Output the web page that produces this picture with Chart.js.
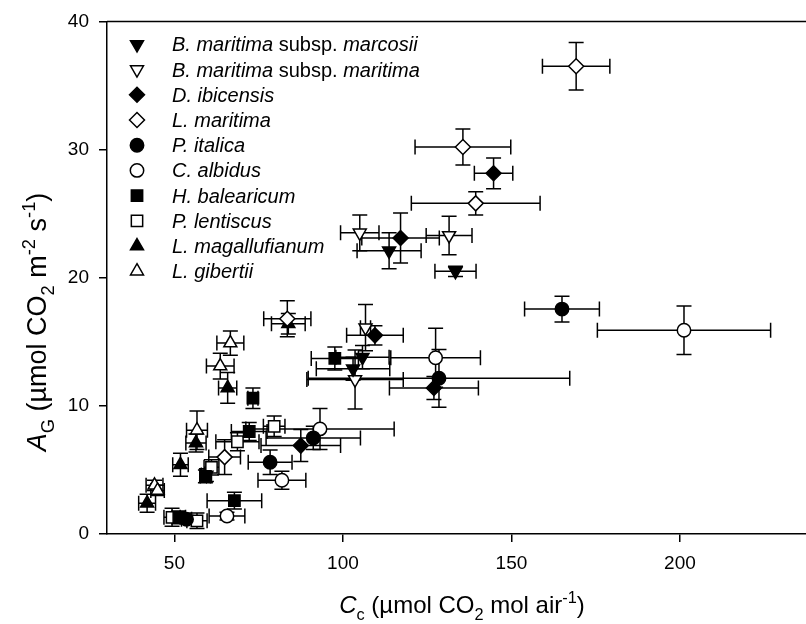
<!DOCTYPE html>
<html>
<head>
<meta charset="utf-8">
<script src="https://cdn.jsdelivr.net/npm/chart.js@4.4.1/dist/chart.umd.min.js"></script>
<style>
  html, body { margin: 0; padding: 0; background: #fff; overflow: hidden; }
</style>
</head>
<body>
<canvas id="gasChart" width="806" height="624"></canvas>
<script>
// each point: [Cc, AG, Cc error, AG error]
const bMarcosii = [[133.4, 20.5, 6.1, 0.4], [113.7, 22.1, 9.5, 1.4], [105.8, 13.8, 7.9, 0.9], [103.0, 12.9, 10.9, 0.9], [59.5, 4.6, 1.5, 0.5]];
const bMaritima = [[131.5, 23.3, 6.8, 1.5], [105.0, 23.5, 5.7, 1.4], [106.7, 16.1, 1.5, 1.8], [103.6, 12.05, 14.3, 2.3]];
const dIbicensis = [[144.7, 28.15, 5.7, 1.2], [117.1, 23.1, 11.5, 1.95], [109.5, 15.5, 8.4, 0.75], [127.0, 11.4, 13.2, 0.9], [87.5, 6.9, 11.8, 1.25]];
const lMaritima = [[169.2, 36.5, 10.0, 1.85], [135.6, 30.2, 14.2, 1.4], [139.4, 25.8, 19.1, 0.9], [83.5, 16.8, 7.0, 1.4], [64.9, 6.0, 4.7, 1.35]];
const pItalica = [[165.0, 17.55, 11.1, 1.0], [128.5, 12.15, 38.8, 2.25], [91.2, 7.5, 14.0, 0.9], [78.4, 5.6, 6.5, 0.95], [53.6, 1.15, 1.5, 0.3]];
const cAlbidus = [[201.2, 15.9, 25.7, 1.9], [127.5, 13.75, 13.3, 2.3], [93.2, 8.2, 22.0, 1.6], [81.9, 4.2, 7.1, 0.7], [65.6, 1.4, 5.3, 0.3]];
const hBalearicum = [[97.6, 13.7, 7.0, 0.9], [73.3, 10.6, 1.5, 0.8], [72.2, 8.0, 5.3, 0.7], [67.8, 2.6, 8.1, 0.65], [59.2, 4.5, 1.5, 0.5], [51.3, 1.3, 2.0, 0.5]];
const pLentiscus = [[79.6, 8.4, 3.2, 0.8], [68.7, 7.2, 6.4, 0.7], [61.0, 5.2, 2.2, 0.6], [49.3, 1.3, 2.4, 0.7], [56.7, 1.03, 3.0, 0.6]];
const lMagallufianum = [[83.8, 16.4, 5.0, 0.8], [65.8, 11.4, 2.7, 1.2], [56.4, 7.1, 3.0, 0.7], [51.8, 5.4, 2.3, 0.9], [41.9, 2.4, 2.5, 0.7]];
const lGibertii = [[66.6, 14.9, 4.0, 0.95], [63.6, 13.1, 4.1, 1.0], [56.7, 8.1, 3.1, 1.5], [44.1, 3.8, 2.5, 0.4], [45.0, 3.4, 2.0, 0.4]];

const speciesData = [bMarcosii, bMaritima, dIbicensis, lMaritima, pItalica, cAlbidus, hBalearicum, pLentiscus, lMagallufianum, lGibertii];
// legend names, pieces: [text, italic?]
const speciesNames = [
  [['B. maritima', true], [' subsp. ', false], ['marcosii', true]],
  [['B. maritima', true], [' subsp. ', false], ['maritima', true]],
  [['D. ibicensis', true]],
  [['L. maritima', true]],
  [['P. italica', true]],
  [['C. albidus', true]],
  [['H. balearicum', true]],
  [['P. lentiscus', true]],
  [['L. magallufianum', true]],
  [['L. gibertii', true]]
];
const xTicks = [50, 100, 150, 200];
const yTicks = [0, 10, 20, 30, 40];

// marker looks
const shapes = ['triangle', 'triangle', 'rectRot', 'rectRot', 'circle', 'circle', 'rect', 'rect', 'triangle', 'triangle'];
const turns = [180, 180, 0, 0, 0, 0, 0, 0, 0, 0];
const filled = [true, false, true, false, true, false, true, false, true, false];
const sizes = { triangle: 7.5, rectRot: 7.5, circle: 6.7, rect: 8 };

const FONT = '"Liberation Sans", Arial, Helvetica, sans-serif';

function richText(ctx, parts, x, y, size, align) {
  // parts: [text, italic, shift] shift: 0 normal, 1 sub, -1 sup
  const pieces = parts.map(p => {
    const s = p[2] ? size * 0.68 : size;
    const f = (p[1] ? 'italic ' : '') + s + 'px ' + FONT;
    ctx.font = f;
    return { t: p[0], f: f, w: ctx.measureText(p[0]).width, dy: p[2] === 1 ? size * 0.3 : (p[2] === -1 ? -size * 0.42 : 0) };
  });
  const total = pieces.reduce((a, p) => a + p.w, 0);
  let cx = align === 'center' ? x - total / 2 : x;
  ctx.textBaseline = 'alphabetic';
  ctx.textAlign = 'left';
  pieces.forEach(p => {
    ctx.font = p.f;
    ctx.fillText(p.t, cx, y + p.dy);
    cx += p.w;
  });
}

function marker(ctx, i, x, y) {
  const opts = { pointStyle: shapes[i], radius: sizes[shapes[i]], rotation: turns[i], borderWidth: 1.5 };
  ctx.fillStyle = filled[i] ? '#000' : '#fff';
  ctx.strokeStyle = '#000';
  ctx.lineWidth = 1.5;
  Chart.helpers.drawPoint(ctx, opts, x, y);
}

const errorBars = {
  id: 'errorBars',
  beforeDatasetsDraw(chart) {
    const ctx = chart.ctx;
    const xs = chart.scales.x, ys = chart.scales.y;
    const cap = 7.5;
    ctx.save();
    ctx.strokeStyle = '#000';
    ctx.lineWidth = 1.5;
    chart.data.datasets.forEach(ds => {
      ds.data.forEach(p => {
        const cx = xs.getPixelForValue(p.x), cy = ys.getPixelForValue(p.y);
        const xl = xs.getPixelForValue(p.x - p.xErr), xr = xs.getPixelForValue(p.x + p.xErr);
        const yt = ys.getPixelForValue(p.y + p.yErr), yb = ys.getPixelForValue(p.y - p.yErr);
        ctx.beginPath();
        ctx.moveTo(xl, cy); ctx.lineTo(xr, cy);
        ctx.moveTo(xl, cy - cap); ctx.lineTo(xl, cy + cap);
        ctx.moveTo(xr, cy - cap); ctx.lineTo(xr, cy + cap);
        ctx.moveTo(cx, yt); ctx.lineTo(cx, yb);
        ctx.moveTo(cx - cap, yt); ctx.lineTo(cx + cap, yt);
        ctx.moveTo(cx - cap, yb); ctx.lineTo(cx + cap, yb);
        ctx.stroke();
      });
    });
    ctx.restore();
  }
};

const decorations = {
  id: 'decorations',
  afterDraw(chart) {
    const ctx = chart.ctx;
    const area = chart.chartArea;
    ctx.save();
    // top frame line
    ctx.strokeStyle = '#000';
    ctx.lineWidth = 1.5;
    ctx.beginPath();
    ctx.moveTo(area.left, area.top);
    ctx.lineTo(area.right, area.top);
    ctx.stroke();

    // legend
    speciesNames.forEach((name, i) => {
      const ly = area.top + 23 + i * 25.2;
      marker(ctx, i, area.left + 30, ly);
      ctx.fillStyle = '#000';
      richText(ctx, name.map(p => [p[0], p[1], 0]), area.left + 65, ly + 7, 20, 'left');
    });

    // axis titles
    ctx.fillStyle = '#000';
    richText(ctx, [['C', true, 0], ['c', false, 1], [' (\u00b5mol CO', false, 0], ['2', false, 1], [' mol air', false, 0], ['-1', false, -1], [')', false, 0]],
      462, 613, 24, 'center');
    ctx.translate(46, 322);
    ctx.rotate(-Math.PI / 2);
    richText(ctx, [['A', true, 0], ['G', false, 1], [' (\u00b5mol CO', false, 0], ['2', false, 1], [' m', false, 0], ['-2', false, -1], [' s', false, 0], ['-1', false, -1], [')', false, 0]],
      0, 0, 27, 'center');
    ctx.restore();
  }
};

const datasets = speciesData.map((rows, i) => ({
  label: speciesNames[i].map(p => p[0]).join(''),
  data: rows.map(r => ({ x: r[0], y: r[1], xErr: r[2], yErr: r[3] })),
  pointStyle: shapes[i],
  rotation: turns[i],
  pointRadius: sizes[shapes[i]],
  pointHoverRadius: sizes[shapes[i]],
  backgroundColor: filled[i] ? '#000' : '#fff',
  borderColor: '#000',
  borderWidth: 1.5,
  showLine: false,
  clip: false
}));

new Chart(document.getElementById('gasChart'), {
  type: 'scatter',
  data: { datasets: datasets },
  options: {
    responsive: false,
    animation: false,
    layout: { autoPadding: false, padding: { top: 20, right: 0, left: 0, bottom: 0 } },
    plugins: { legend: { display: false }, tooltip: { enabled: false } },
    scales: {
      x: {
        type: 'linear',
        min: 30,
        max: 237.4,
        afterBuildTicks: s => { s.ticks = xTicks.map(v => ({ value: v })); },
        afterFit: s => { s.height = 90; s.paddingRight = 0; s.paddingLeft = 0; },
        grid: { drawOnChartArea: false, drawTicks: true, tickLength: 8, color: '#000', lineWidth: 1.5 },
        border: { display: true, color: '#000', width: 1.5 },
        ticks: { color: '#000', font: { family: FONT, size: 19 }, padding: 10, maxRotation: 0 }
      },
      y: {
        min: 0,
        max: 40,
        afterBuildTicks: s => { s.ticks = yTicks.map(v => ({ value: v })); },
        afterFit: s => { s.width = 107; },
        grid: { drawOnChartArea: false, drawTicks: true, tickLength: 8, color: '#000', lineWidth: 1.5 },
        border: { display: true, color: '#000', width: 1.5 },
        ticks: { color: '#000', font: { family: FONT, size: 19 }, padding: 10 }
      }
    }
  },
  plugins: [errorBars, decorations]
});
</script>
</body>
</html>
